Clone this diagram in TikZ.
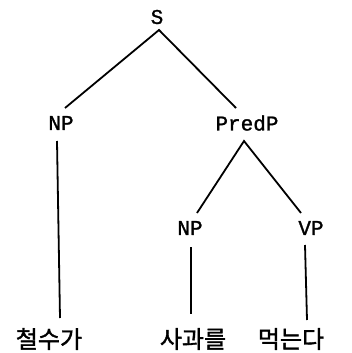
\documentclass[tikz,border=0pt]{standalone}
\usepackage{fontspec}
\newfontfamily\labfont[FakeBold=1.2]{Liberation Mono}
\newfontfamily\kofont[FakeBold=1.5]{Noto Sans CJK KR}
\begin{document}
\begin{tikzpicture}[x=1pt,y=-1pt,
  lab/.style={font=\labfont\fontsize{21}{21}\selectfont, inner sep=0pt},
  kor/.style={font=\kofont\fontsize{24}{24}\selectfont, inner sep=0pt},
  edge/.style={line width=1.8pt}]
\useasboundingbox (0,0) rectangle (352,353);
\node[lab] (S) at (157,17) {S};
\node[lab] (NPa) at (61,123) {NP};
\node[lab] (PredP) at (247,123) {PredP};
\node[lab] (NPb) at (190,228) {NP};
\node[lab] (VP) at (311,228) {VP};
\node[kor] (w1) at (49,339) {철수가};
\node[kor] (w2) at (193,339) {사과를};
\node[kor] (w3) at (291,339) {먹는다};
\coordinate (sA) at (159,30);
\coordinate (npaT) at (65,108);
\coordinate (predT) at (236,108);
\coordinate (npaB) at (57,141);
\coordinate (w1T) at (60,318);
\coordinate (predB) at (244,141);
\coordinate (npbT) at (197,213);
\coordinate (vpT) at (301,213);
\coordinate (npbB) at (191,247);
\coordinate (w2T) at (191,314);
\coordinate (vpB) at (305,245);
\coordinate (w3T) at (307,320);
\draw[edge] (npaT) -- (sA) -- (predT);
\draw[edge] (npaB) -- (w1T);
\draw[edge] (npbT) -- (predB) -- (vpT);
\draw[edge] (npbB) -- (w2T);
\draw[edge] (vpB) -- (w3T);
\end{tikzpicture}
\end{document}
